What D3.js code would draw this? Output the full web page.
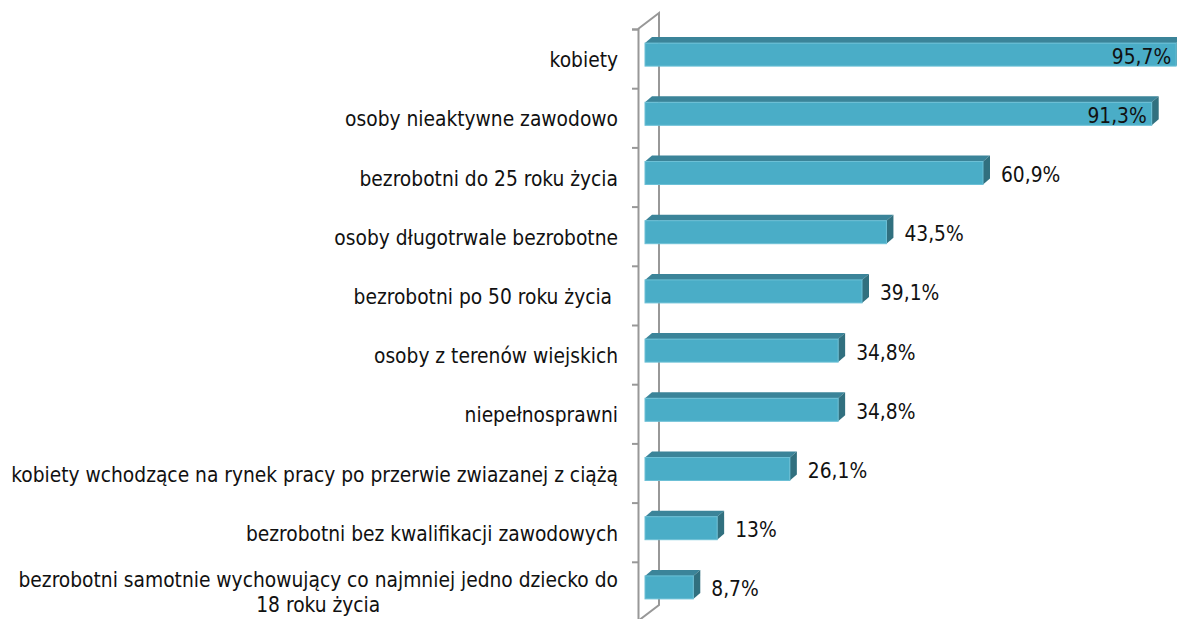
<!DOCTYPE html>
<html>
<head>
<meta charset="utf-8">
<script src="https://cdn.jsdelivr.net/npm/d3@7"></script>
<style>
  body { margin: 0; background: #fff; }
  text { font-family: "DejaVu Sans Condensed", "DejaVu Sans", sans-serif; fill: #111; }
</style>
</head>
<body>
<div class="chart"></div>
<script>
// categories, top to bottom (second line of a label after "\n")
var categories = [
  "kobiety",
  "osoby nieaktywne zawodowo",
  "bezrobotni do 25 roku życia",
  "osoby długotrwale bezrobotne",
  "bezrobotni po 50 roku życia ",
  "osoby z terenów wiejskich",
  "niepełnosprawni",
  "kobiety wchodzące na rynek pracy po przerwie zwiazanej z ciążą",
  "bezrobotni bez kwalifikacji zawodowych",
  "bezrobotni samotnie wychowujący co najmniej jedno dziecko do\n18 roku życia"
];

// percent values
var values = [95.7, 91.3, 60.9, 43.5, 39.1, 34.8, 34.8, 26.1, 13, 8.7];

var svgWidth = 1177;
var svgHeight = 619;

var svg = d3.select(".chart")
  .append("svg")
  .attr("width", svgWidth)
  .attr("height", svgHeight);

// front plane of the category axis
var axisX = 638;
var wallDx = 21, wallDy = -16;   // depth of the 3d wall
var barDx = 7, barDy = -6;       // depth of each bar
var barH = 23;

var yScale = d3.scaleBand()
  .domain(categories)
  .range([29, 621]);

var xScale = d3.scaleLinear()
  .domain([0, 100])
  .range([645, 1200]);

var tickScale = d3.scaleLinear()
  .domain([0, categories.length])
  .range([29, 621]);

var fontSize = 20.75;

// wall outline
var wallColor = "#989898";
svg.append("path")
  .attr("d", `M${axisX},${tickScale(0)} L${axisX + wallDx},${tickScale(0) + wallDy}
              L${axisX + wallDx},${tickScale(categories.length) + wallDy}
              L${axisX},${tickScale(categories.length)}`)
  .attr("fill", "none")
  .attr("stroke", wallColor)
  .attr("stroke-width", 2);

// axis with ticks at band boundaries
var yAxis = d3.axisLeft(tickScale)
  .tickValues(d3.range(0, categories.length + 1))
  .tickSize(6)
  .tickFormat("");

var axisG = svg.append("g")
  .attr("transform", `translate(${axisX},0)`)
  .call(yAxis);
axisG.select(".domain").attr("stroke", wallColor).attr("stroke-width", 2);
axisG.selectAll(".tick line").attr("stroke", wallColor).attr("stroke-width", 2);

// category labels
svg.selectAll(".cat")
  .data(categories)
  .enter()
  .append("text")
  .attr("class", "cat")
  .attr("text-anchor", "end")
  .attr("font-size", fontSize)
  .style("white-space", "pre")
  .each(function(d) {
    var lines = d.split("\n");
    var cy = yScale(d) + yScale.bandwidth() / 2;
    var lh = 25;
    var y0 = cy + 8.5 - (lines.length - 1) * lh / 2;
    var t = d3.select(this);
    lines.forEach(function(line, i) {
      t.append("tspan")
        .attr("x", 618)
        .attr("y", y0 + i * lh)
        .text(line);
    });
    // centre the wrapped second line under the first
    if (lines.length > 1) {
      var first = t.select("tspan").node().getComputedTextLength();
      t.selectAll("tspan").filter((_, i) => i > 0)
        .attr("text-anchor", "middle")
        .attr("x", 618 - first / 2);
    }
  });

// bars
var bars = svg.selectAll(".bar")
  .data(values)
  .enter()
  .append("g")
  .attr("class", "bar");

function frontTop(i) {
  return yScale(categories[i]) + yScale.bandwidth() / 2 - 15.5;
}

// top face
bars.append("path")
  .attr("d", function(d, i) {
    var x0 = xScale(0), x1 = xScale(d), y = frontTop(i);
    return `M${x0},${y} L${x0 + barDx},${y + barDy} L${x1 + barDx},${y + barDy} L${x1},${y} Z`;
  })
  .attr("fill", "#3b8499");

// side face
bars.append("path")
  .attr("d", function(d, i) {
    var x1 = xScale(d), y = frontTop(i);
    return `M${x1},${y} L${x1 + barDx},${y + barDy} L${x1 + barDx},${y + barDy + barH} L${x1},${y + barH} Z`;
  })
  .attr("fill", "#31707f");

// front face
bars.append("rect")
  .attr("x", xScale(0))
  .attr("y", (d, i) => frontTop(i))
  .attr("width", d => xScale(d) - xScale(0))
  .attr("height", barH)
  .attr("fill", "#4aadc7")
  .attr("stroke", "#6cc0d6")
  .attr("stroke-width", 1);

// value labels
bars.append("text")
  .attr("font-size", fontSize)
  .attr("dominant-baseline", "central")
  .attr("y", (d, i) => frontTop(i) + barH / 2 + 2)
  .text(d => String(d).replace(".", ",") + "%")
  .each(function(d) {
    var w = this.getComputedTextLength();
    var t = d3.select(this);
    if (xScale(d) + 18 + w > svgWidth) {
      t.attr("text-anchor", "end").attr("x", xScale(d) - 5);
    } else {
      t.attr("text-anchor", "start").attr("x", xScale(d) + 18);
    }
  });
</script>
</body>
</html>
